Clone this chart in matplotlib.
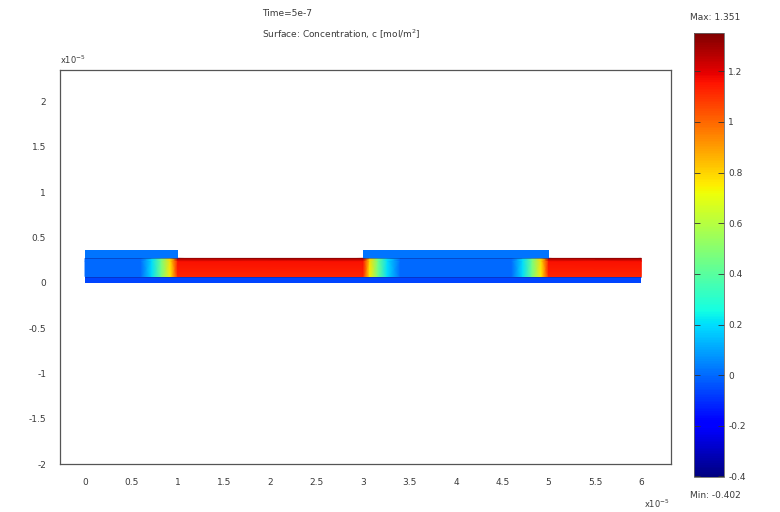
import matplotlib
matplotlib.use('Agg')
import matplotlib.pyplot as plt
import numpy as np

# --- Data (x, y in units of 1e-5 m) ---
time_label = 'Time=5e-7'
c_min, c_max = -0.402, 1.351

# layer boundaries (y)
substrate_y = [0.0, 0.07]
middle_y = [0.07, 0.24, 0.27]
block_y = [0.27, 0.36]
domain_x = [0.0, 6.0]

# covering blocks on top of the middle layer (x start, x end)
blocks = [(0.0, 1.0), (3.0, 5.0)]
block_c = 0.02
substrate_c = -0.06

# concentration profile along the middle layer (bottom, upper and top rows)
profile_x = [0.0, 0.6, 0.72, 0.82, 0.92, 1.0, 3.0, 3.07, 3.16, 3.26, 3.4,
             4.6, 4.72, 4.82, 4.92, 5.0, 6.0]
profile_c_bottom = [0.0, 0.0, 0.2, 0.45, 0.75, 1.12, 1.12, 0.75, 0.45, 0.2, 0.0,
                    0.0, 0.2, 0.45, 0.75, 1.12, 1.12]
profile_c_upper = [0.0, 0.0, 0.2, 0.45, 0.78, 1.16, 1.16, 0.78, 0.45, 0.2, 0.0,
                   0.0, 0.2, 0.45, 0.78, 1.16, 1.16]
profile_c_top = [0.0, 0.0, 0.2, 0.45, 0.8, 1.33, 1.33, 0.8, 0.45, 0.2, 0.0,
                 0.0, 0.2, 0.45, 0.8, 1.33, 1.33]

xticks = [0, 0.5, 1, 1.5, 2, 2.5, 3, 3.5, 4, 4.5, 5, 5.5, 6]
yticks = [-2, -1.5, -1, -0.5, 0, 0.5, 1, 1.5, 2]
cbar_ticks = [-0.4, -0.2, 0, 0.2, 0.4, 0.6, 0.8, 1, 1.2]

TXT = '#3a3a3a'
FS = 6.5

fig = plt.figure(figsize=(7.8, 5.12), dpi=100)
fig.patch.set_facecolor('white')
ax = fig.add_axes([60 / 780, 1 - 464 / 512, 611 / 780, 394 / 512])

cmap = plt.get_cmap('jet')
norm = plt.Normalize(c_min, c_max)

# middle layer (gouraud-shaded)
X, Y = np.meshgrid(profile_x, middle_y)
C = np.array([profile_c_bottom, profile_c_upper, profile_c_top])
ax.pcolormesh(X, Y, C, shading='gouraud', cmap=cmap, norm=norm, zorder=2)

# substrate
ax.pcolormesh(domain_x, substrate_y, [[substrate_c]], cmap=cmap, norm=norm, zorder=2)

# blocks
for x0, x1 in blocks:
    ax.pcolormesh([x0, x1], block_y, [[block_c]], cmap=cmap, norm=norm, zorder=2)
    ax.plot([x0, x1], [block_y[0], block_y[0]], color='#0a2a9a', lw=0.6, alpha=0.6, zorder=3)

ax.plot(domain_x, [middle_y[0], middle_y[0]], color='#0a2a9a', lw=0.6, alpha=0.6, zorder=3)

ax.set_xlim(-0.27, 6.32)
ax.set_ylim(-1.99, 2.35)
ax.set_xticks(xticks)
ax.set_xticklabels(['%g' % t for t in xticks])
ax.set_yticks(yticks)
ax.set_yticklabels(['%g' % t for t in yticks])
ax.tick_params(labelsize=FS, colors=TXT, length=0, pad=10)
for s in ax.spines.values():
    s.set_color('#555555')
    s.set_linewidth(0.9)

ax.text(0.0, 1.01, r'x10$^{-5}$', transform=ax.transAxes, fontsize=FS - 0.5,
        color=TXT, ha='left', va='bottom')
ax.text(0.955, -0.085, r'x10$^{-5}$', transform=ax.transAxes, fontsize=FS - 0.5,
        color=TXT, ha='left', va='top')

# title
fig.text(262 / 780, 1 - 13 / 512, time_label, fontsize=FS, color=TXT, ha='left', va='center')
fig.text(262 / 780, 1 - 34 / 512, r'Surface: Concentration, c [mol/m$^2$]', fontsize=FS,
         color=TXT, ha='left', va='center')

# colorbar
cax = fig.add_axes([694 / 780, 1 - 477 / 512, 30 / 780, 444 / 512])
sm = plt.cm.ScalarMappable(cmap=cmap, norm=norm)
cb = fig.colorbar(sm, cax=cax, ticks=cbar_ticks)
cb.set_ticklabels(['%g' % t for t in cbar_ticks])
cb.outline.set_edgecolor('#666666')
cb.outline.set_linewidth(0.6)
cax.tick_params(labelsize=FS, labelcolor=TXT, color='#333333', length=4, width=0.6,
                direction='in', left=True, right=True, pad=3)
fig.text(715 / 780, 1 - 17 / 512, 'Max: %.3f' % c_max, fontsize=FS, color=TXT, ha='center', va='center')
fig.text(715 / 780, 1 - 496 / 512, 'Min: %.3f' % c_min, fontsize=FS, color=TXT, ha='center', va='center')

fig.savefig('out.png', dpi=100, facecolor='white')
